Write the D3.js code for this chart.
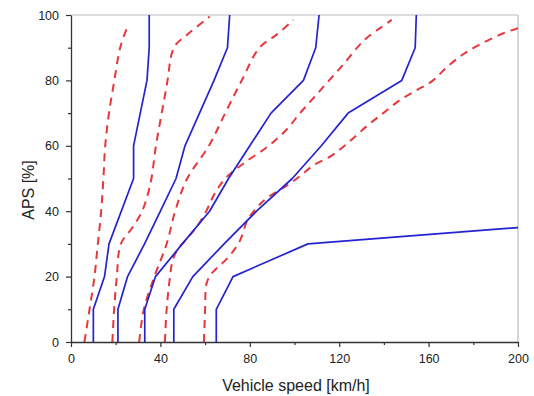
<!DOCTYPE html>
<html><head><meta charset="utf-8">
<script src="https://cdnjs.cloudflare.com/ajax/libs/d3/7.8.5/d3.min.js"></script>
<style>
body{margin:0;background:#fff}
svg{display:block;font-family:"Liberation Sans",Arial,sans-serif}
</style>
</head><body><svg id="c" width="534" height="396"></svg>
<script>
// ---- data (vehicle speed [km/h] vs APS [%]) ----
const xMajorTicks=[0,40,80,120,160,200];
const xMinorTicks=[20,60,100,140,180];
const yMajorTicks=[0,20,40,60,80,100];
const yMinorTicks=[10,30,50,70,90];

// solid blue curves
const blue1Aps=[0,10,20,30,50,60,80,90,100];
const blue1Speed=[10,10,15,17,28,28,34,35,35];
const blue2Aps=[0,10,20,30,40,50,60,70,80,90,100];
const blue2Speed=[21,21,25.3,32.9,40,47,51,57.5,64,70,71];
const blue3Aps=[0,10,20,30,40,50,60,70,80,90,100];
const blue3Speed=[33,33,37.8,49.8,62,70.5,80,89.5,104,109.5,111];
const blue4Aps=[0,10,20,30,40,50,60,70,80,90,100];
const blue4Speed=[46,46,54.5,68.5,83,99,112,124,148,154,154.5];
const blue5Aps=[0,10,20,30,35];
const blue5Speed=[65,65,72.5,106,200];

// dashed red curves
const red1Aps=[0,10,20,30,40,50,60,70,80,90,96];
const red1Speed=[6,8.3,10.5,12,13.5,14.5,15.3,17,19.4,22,25];
const red2Aps=[0,10,20,30,35,40,45,50,60,70,80,88,91,94,99.5];
const red2Speed=[18.5,19.3,20.5,22.3,27.5,31.8,34.3,36,38,40.6,43.2,45,47,52,62];
const red3Aps=[0,10,20,30,40,50,60,70,80,90,94,98.5];
const red3Speed=[30.5,32.6,37.3,42.8,46.6,52,61.7,69,76.4,84.3,92,99.5];
const red4Aps=[0,10,20,25,28,31,35,40,45,50,55,60,65,70,75,80,85,90,93,96,98.5];
const red4Speed=[42,42.8,44.3,45.5,47.5,51,56,60.5,64,69,78,88.5,96.5,102.5,109,115.5,122,128,132.3,138.3,143.5];
const red5Aps=[0,10,18,21,26,31,37,41,44,48,51,54,57,61,66,70,74,77,80,84,88,91,94,96];
const red5Speed=[59.5,60,60.7,63,70.5,75.6,78.8,83,87.6,97,103,108.4,116.6,124.1,132.3,139.7,147.2,154.7,162,168.1,175.5,183,192,200];

const blueSeries=[[blue1Speed,blue1Aps],[blue2Speed,blue2Aps],[blue3Speed,blue3Aps],[blue4Speed,blue4Aps],[blue5Speed,blue5Aps]];
const redSeries=[[red1Speed,red1Aps],[red2Speed,red2Aps],[red3Speed,red3Aps],[red4Speed,red4Aps],[red5Speed,red5Aps]];

// ---- layout ----
const L=71,R=518,T=15,B=342;
const svg=d3.select("#c");
const x=d3.scaleLinear().domain([0,200]).range([L,R]);
const y=d3.scaleLinear().domain([0,100]).range([B,T]);

// frame (top/right)
svg.append("line").attr("x1",L).attr("x2",R).attr("y1",T).attr("y2",T).attr("stroke","#bdbdbd").attr("stroke-width",1.2);
svg.append("line").attr("x1",R).attr("x2",R).attr("y1",T).attr("y2",B).attr("stroke","#bdbdbd").attr("stroke-width",1.2);

svg.append("clipPath").attr("id","pc").append("rect").attr("x",L).attr("y",T).attr("width",R-L).attr("height",B-T);

const lineStraight=d3.line().x(d=>x(d[0])).y(d=>y(d[1]));
const lineSmooth=d3.line().x(d=>x(d[0])).y(d=>y(d[1])).curve(d3.curveCatmullRom.alpha(0.5));
const toPts=s=>s[0].map((v,i)=>[v,s[1][i]]);

const g=svg.append("g").attr("clip-path","url(#pc)");
redSeries.forEach(s=>{
  g.append("path").attr("d",lineSmooth(toPts(s))).attr("fill","none")
   .attr("stroke","#e8373c").attr("stroke-width",2).attr("stroke-dasharray","8,6");
});
blueSeries.forEach(s=>{
  g.append("path").attr("d",lineStraight(toPts(s))).attr("fill","none")
   .attr("stroke","#2323d2").attr("stroke-width",1.7).attr("stroke-linejoin","round");
});

// axes
function styleAxis(sel){
  sel.selectAll(".domain").attr("stroke","#333").attr("stroke-width",1.3);
  sel.selectAll(".tick line").attr("stroke","#333").attr("stroke-width",1.2);
  sel.selectAll("text").attr("fill","#222").attr("font-size","12.5px").attr("font-family","'Liberation Sans',Arial,sans-serif");
}
const xa=svg.append("g").attr("transform",`translate(0,${B})`)
  .call(d3.axisBottom(x).tickValues(xMajorTicks).tickSizeInner(5).tickSizeOuter(0).tickPadding(7).tickFormat(d3.format("d")));
styleAxis(xa);
const xm=svg.append("g").attr("transform",`translate(0,${B})`)
  .call(d3.axisBottom(x).tickValues(xMinorTicks).tickSizeInner(3).tickSizeOuter(0).tickFormat(""));
styleAxis(xm); xm.select(".domain").remove();

const ya=svg.append("g").attr("transform",`translate(${L},0)`)
  .call(d3.axisLeft(y).tickValues(yMajorTicks).tickSizeInner(5).tickSizeOuter(0).tickPadding(7).tickFormat(d3.format("d")));
styleAxis(ya);
const ym=svg.append("g").attr("transform",`translate(${L},0)`)
  .call(d3.axisLeft(y).tickValues(yMinorTicks).tickSizeInner(3).tickSizeOuter(0).tickFormat(""));
styleAxis(ym); ym.select(".domain").remove();

// titles
svg.append("text").attr("x",296).attr("y",391).attr("text-anchor","middle")
  .attr("font-size","16px").attr("fill","#222").text("Vehicle speed [km/h]");
svg.append("text").attr("transform","translate(33.5,190) rotate(-90)").attr("text-anchor","middle")
  .attr("font-size","16px").attr("fill","#222").text("APS [%]");
</script>
</body></html>
